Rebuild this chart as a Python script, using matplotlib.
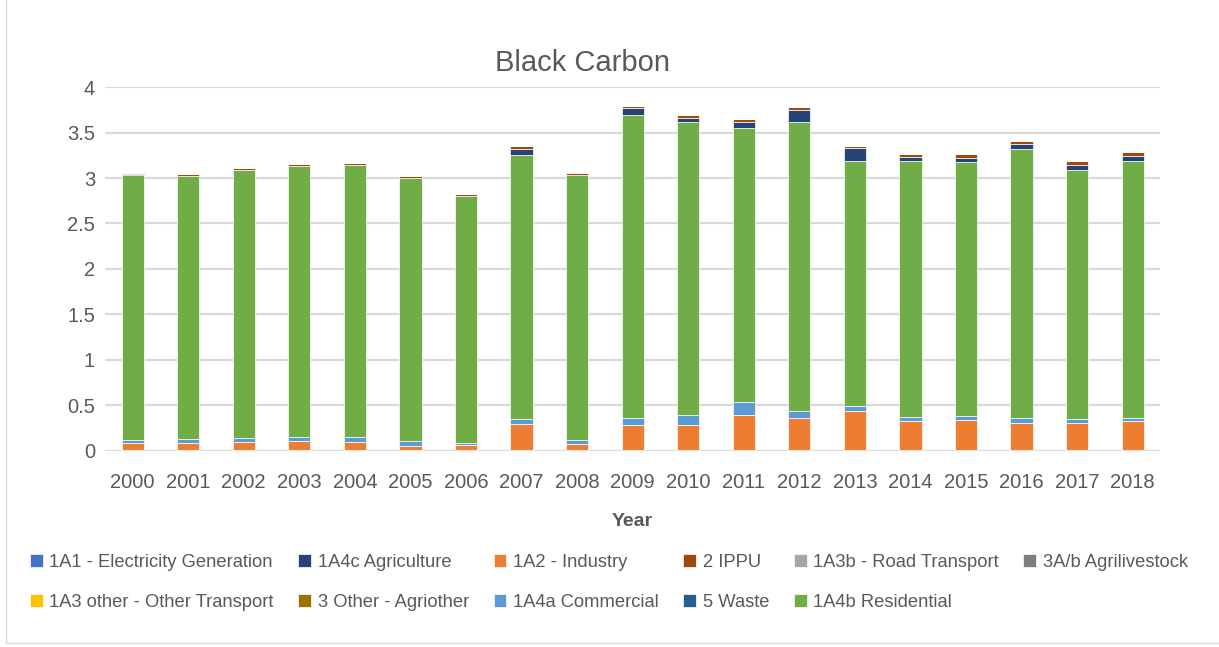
import numpy as np
import matplotlib
matplotlib.use('Agg')
import matplotlib.pyplot as plt
from matplotlib.patches import Rectangle

plt.rcParams['font.family'] = ['Liberation Sans', 'DejaVu Sans']

years = [str(y) for y in range(2000, 2019)]

# emissions by source, stacked bottom to top
elec_gen     = [0.010, 0.010, 0.010, 0.010, 0.010, 0.015, 0.010, 0.010, 0.010, 0.010,
                0.010, 0.010, 0.010, 0.010, 0.010, 0.010, 0.010, 0.010, 0.010]
industry     = [0.075, 0.082, 0.086, 0.100, 0.093, 0.044, 0.052, 0.284, 0.071, 0.273,
                0.280, 0.383, 0.347, 0.427, 0.314, 0.325, 0.295, 0.295, 0.314]
road         = [0.0] * 19
other_trans  = [0.0] * 19
commercial   = [0.036, 0.037, 0.044, 0.048, 0.047, 0.048, 0.026, 0.056, 0.040, 0.074,
                0.100, 0.144, 0.080, 0.052, 0.044, 0.051, 0.055, 0.048, 0.036]
residential  = [2.916, 2.893, 2.944, 2.970, 2.989, 2.889, 2.712, 2.906, 2.912, 3.335,
                3.222, 3.016, 3.182, 2.698, 2.815, 2.790, 2.955, 2.731, 2.827]
agriculture  = [0.005, 0.004, 0.005, 0.005, 0.005, 0.005, 0.005, 0.063, 0.005, 0.077,
                0.051, 0.062, 0.128, 0.143, 0.051, 0.047, 0.059, 0.063, 0.055]
ippu         = [0.017, 0.014, 0.017, 0.017, 0.024, 0.021, 0.023, 0.029, 0.021, 0.026,
                0.026, 0.030, 0.030, 0.022, 0.030, 0.037, 0.036, 0.036, 0.044]
livestock    = [0.0] * 19
agri_other   = [0.0] * 19
waste        = [0.0] * 19

series = [
    ('1A1 - Electricity Generation', elec_gen, '#4472C4'),
    ('1A2 - Industry', industry, '#ED7D31'),
    ('1A3b - Road Transport', road, '#A5A5A5'),
    ('1A3 other - Other Transport', other_trans, '#FFC000'),
    ('1A4a Commercial', commercial, '#5B9BD5'),
    ('1A4b Residential', residential, '#70AD47'),
    ('1A4c Agriculture', agriculture, '#264478'),
    ('2 IPPU', ippu, '#9E480E'),
    ('3A/b Agrilivestock', livestock, '#7F7F7F'),
    ('3 Other - Agriother', agri_other, '#997300'),
    ('5 Waste', waste, '#255E91'),
]

legend_order = ['1A1 - Electricity Generation', '1A3 other - Other Transport',
                '1A4c Agriculture', '3 Other - Agriother',
                '1A2 - Industry', '1A4a Commercial',
                '2 IPPU', '5 Waste',
                '1A3b - Road Transport', '1A4b Residential',
                '3A/b Agrilivestock']

yticks = [0, 0.5, 1, 1.5, 2, 2.5, 3, 3.5, 4]
ytick_labels = ['0', '0.5', '1', '1.5', '2', '2.5', '3', '3.5', '4']

txt = '#595959'

fig = plt.figure(figsize=(12.19, 6.47), dpi=100)
ax = fig.add_axes([0.086, 0.303, 0.866, 0.5625])

x = np.arange(len(years))
bottom = np.zeros(len(years))
handles = {}
for name, vals, col in series:
    vals = np.array(vals)
    bars = ax.bar(x, vals, 0.4, bottom=bottom, color=col, edgecolor='white',
                  linewidth=0.5, zorder=3)
    handles[name] = bars
    bottom += vals

ax.set_xlim(-0.5, len(years) - 0.5)
ax.set_ylim(0, 4)
ax.set_yticks(yticks)
ax.set_yticklabels(ytick_labels)
ax.set_xticks(x)
ax.set_xticklabels(years)
ax.tick_params(axis='both', length=0, labelsize=14.5, colors=txt)
ax.tick_params(axis='x', pad=16)
ax.tick_params(axis='y', pad=7)
ax.grid(axis='y', color='#D9D9D9', linewidth=1.6, zorder=0)
for s in ax.spines.values():
    s.set_visible(False)

ax.set_xlabel('Year', fontsize=14, color=txt, fontweight='bold', labelpad=15)
fig.text(0.4775, 0.902, 'Black Carbon', ha='center', va='center', fontsize=21, color=txt)

leg = fig.legend([handles[n] for n in legend_order], legend_order,
                 loc='upper left', bbox_to_anchor=(0.011, 0.17), ncol=6,
                 frameon=False, fontsize=13.2, handlelength=0.7, handleheight=0.7,
                 handletextpad=0.35, columnspacing=1.35, labelspacing=1.28,
                 labelcolor=txt)

# chart area border
fig.add_artist(Rectangle((0.005, 0.006), 1.2, 1.2, transform=fig.transFigure,
                         fill=False, edgecolor='#D9D9D9', linewidth=1.0))

fig.savefig('out.png', dpi=100)
